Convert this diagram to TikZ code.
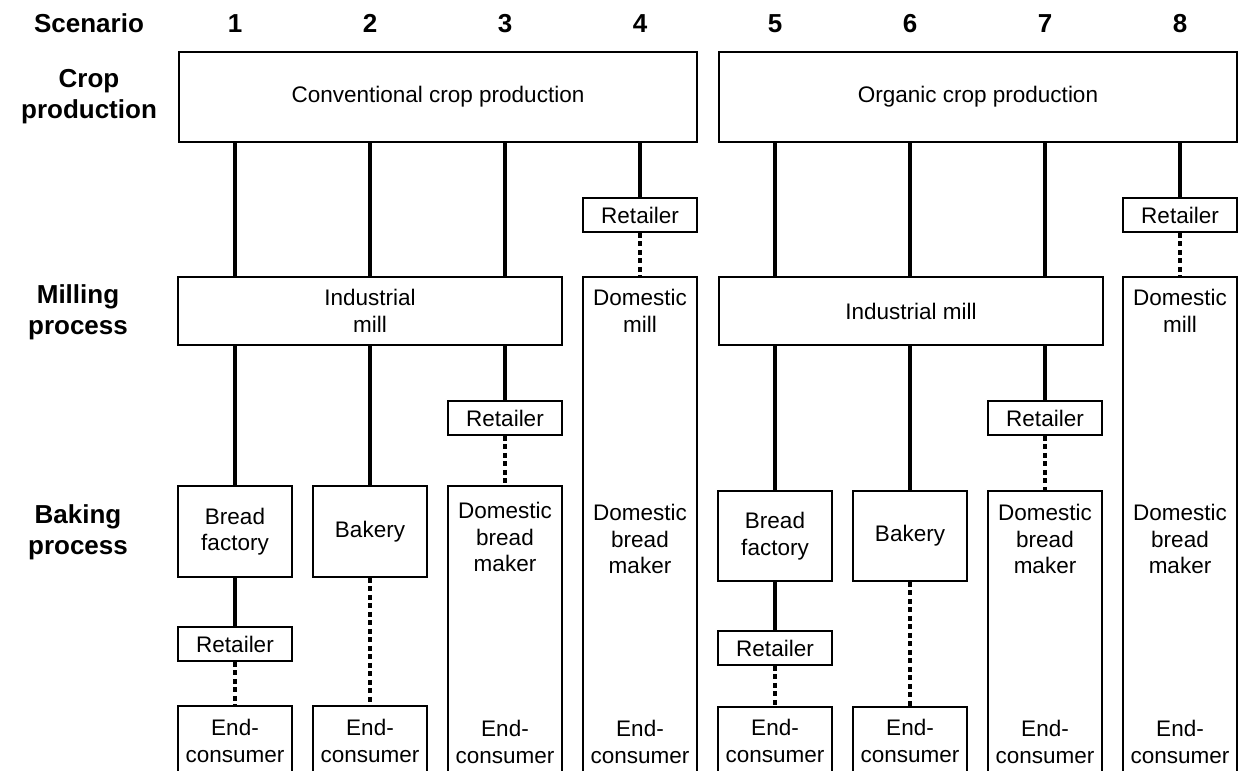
\documentclass[tikz,border=0pt]{standalone}
\usepackage{fontspec}
\setmainfont{Liberation Sans}
\newcommand\regfont{\fontsize{22.5bp}{26.5bp}\selectfont}
\newcommand\labfont{\fontsize{26bp}{31bp}\selectfont\bfseries}
\tikzset{
  box/.style={draw, line width=1.7bp, inner sep=0pt, align=center, font=\regfont},
  openbox/.style={inner sep=0pt},
  txt/.style={inner sep=0pt, align=center, font=\regfont},
  lab/.style={inner sep=0pt, align=center, font=\labfont},
  conn/.style={line width=3.2bp},
  dotconn/.style={line width=3.2bp, dash pattern=on 5bp off 3.5bp},
  outline/.style={line width=1.7bp}
}
\begin{document}
\begin{tikzpicture}[x=1bp,y=-1bp]
\useasboundingbox (0,0) rectangle (1240,771);
\coordinate (bot) at (0,771);
% column coordinates
\foreach \i/\x in {1/235,2/370,3/505,4/640,5/775,6/910,7/1045,8/1180}
  \coordinate (c\i) at (\x,0);

% headings
\node[lab, anchor=base] (scen) at (89,33) {Scenario};
\foreach \i/\x in {1/235,2/370,3/505,4/640,5/775,6/910,7/1045,8/1180}
  \node[lab, anchor=base] (n\i) at (\x,33) {\i};
\node[lab] (lcrop) at (89,97) {Crop\\production};
\node[lab] (lmill) at (78,312) {Milling\\process};
\node[lab] (lbake) at (78,532) {Baking\\process};

% crop production
\node[box, minimum width=518bp, minimum height=90bp] (conv) at (438,97) {Conventional crop production};
\node[box, minimum width=518bp, minimum height=90bp] (org) at (978,97) {Organic crop production};

% retailers in crop row
\node[box, minimum width=114bp, minimum height=34bp] (r4) at (640,215) {Retailer};
\node[box, minimum width=114bp, minimum height=34bp] (r8) at (1180,215) {Retailer};

% industrial mills
\node[box, minimum width=384bp, minimum height=68bp] (imL) at (370,311) {Industrial\\mill};
\node[box, minimum width=384bp, minimum height=68bp] (imR) at (911,311) {Industrial mill};

% tall boxes (open at the bottom)
\node[openbox, minimum width=114bp, minimum height=494bp] (t4) at (640,524) {};
\node[openbox, minimum width=114bp, minimum height=494bp] (t8) at (1180,524) {};
\node[openbox, minimum width=114bp, minimum height=285bp] (t3) at (505,628.5) {};
\node[openbox, minimum width=114bp, minimum height=280bp] (t7) at (1045,631) {};

\foreach \t in {t4,t8,t3,t7}
  \draw[outline] (\t.north west |- bot) -- (\t.north west) -- (\t.north east) -- (\t.north east |- bot);

% texts in tall boxes
\node[txt] (t4a) at (640,311) {Domestic\\mill};
\node[txt] (t4b) at (640,539) {Domestic\\bread\\maker};
\node[txt] (t4c) at (640,742) {End-\\consumer};
\node[txt] (t8a) at (1180,311) {Domestic\\mill};
\node[txt] (t8b) at (1180,539) {Domestic\\bread\\maker};
\node[txt] (t8c) at (1180,742) {End-\\consumer};
\node[txt] (t3b) at (505,537) {Domestic\\bread\\maker};
\node[txt] (t3c) at (505,742) {End-\\consumer};
\node[txt] (t7b) at (1045,539) {Domestic\\bread\\maker};
\node[txt] (t7c) at (1045,742) {End-\\consumer};

% retailers in mill row
\node[box, minimum width=114bp, minimum height=34bp] (r3) at (505,418) {Retailer};
\node[box, minimum width=114bp, minimum height=34bp] (r7) at (1045,418) {Retailer};

% baking boxes
\node[box, minimum width=114bp, minimum height=91bp] (bf1) at (235,531.5) {Bread\\factory};
\node[box, minimum width=114bp, minimum height=91bp] (bk2) at (370,531.5) {Bakery};
\node[box, minimum width=114bp, minimum height=90bp] (bf5) at (775,536) {Bread\\factory};
\node[box, minimum width=114bp, minimum height=90bp] (bk6) at (910,536) {Bakery};

% retailers after bread factory
\node[box, minimum width=114bp, minimum height=34bp] (r1) at (235,644) {Retailer};
\node[box, minimum width=114bp, minimum height=34bp] (r5) at (775,648) {Retailer};

% end-consumer boxes (open at bottom)
\node[openbox, minimum width=114bp, minimum height=70bp] (e1) at (235,741) {};
\node[openbox, minimum width=114bp, minimum height=70bp] (e2) at (370,741) {};
\node[openbox, minimum width=114bp, minimum height=68bp] (e5) at (775,741) {};
\node[openbox, minimum width=114bp, minimum height=68bp] (e6) at (910,741) {};
\foreach \e in {e1,e2,e5,e6}
  \draw[outline] (\e.north west |- bot) -- (\e.north west) -- (\e.north east) -- (\e.north east |- bot);
\node[txt] (e1t) at (235,741) {End-\\consumer};
\node[txt] (e2t) at (370,741) {End-\\consumer};
\node[txt] (e5t) at (775,741) {End-\\consumer};
\node[txt] (e6t) at (910,741) {End-\\consumer};

% connectors: crop -> mill
\foreach \c in {c1,c2,c3}
  \draw[conn] (conv.south -| \c) -- (imL.north -| \c);
\draw[conn] (conv.south -| r4) -- (r4.north);
\draw[dotconn] (r4.south) -- (t4.north);
\foreach \c in {c5,c6,c7}
  \draw[conn] (org.south -| \c) -- (imR.north -| \c);
\draw[conn] (org.south -| r8) -- (r8.north);
\draw[dotconn] (r8.south) -- (t8.north);

% mill -> baking
\draw[conn] (imL.south -| bf1) -- (bf1.north);
\draw[conn] (imL.south -| bk2) -- (bk2.north);
\draw[conn] (imL.south -| r3) -- (r3.north);
\draw[dotconn] (r3.south) -- (t3.north);
\draw[conn] (imR.south -| bf5) -- (bf5.north);
\draw[conn] (imR.south -| bk6) -- (bk6.north);
\draw[conn] (imR.south -| r7) -- (r7.north);
\draw[dotconn] (r7.south) -- (t7.north);

% baking -> consumer
\draw[conn] (bf1.south) -- (r1.north);
\draw[dotconn] (r1.south) -- (e1.north);
\draw[dotconn] (bk2.south) -- (e2.north);
\draw[conn] (bf5.south) -- (r5.north);
\draw[dotconn] (r5.south) -- (e5.north);
\draw[dotconn] (bk6.south) -- (e6.north);
\end{tikzpicture}
\end{document}
